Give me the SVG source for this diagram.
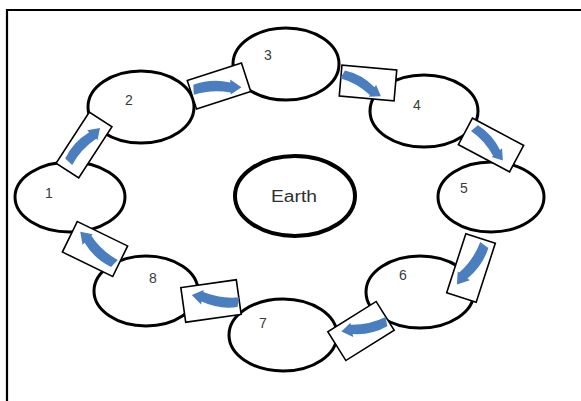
<svg xmlns="http://www.w3.org/2000/svg" xmlns:xlink="http://www.w3.org/1999/xlink" width="581" height="401" viewBox="0 0 581 401">
  <style>
    .orbit { fill: #ffffff; stroke: #000000; stroke-width: 3; }
    .earth { fill: #ffffff; stroke: #000000; stroke-width: 4; }
    .num { font-family: "Liberation Sans", Arial, sans-serif; font-size: 14px; fill: #3a3a3a; text-anchor: middle; dominant-baseline: central; }
    .lbl { font-family: "Liberation Sans", Arial, sans-serif; font-size: 16px; fill: #2e2e2e; text-anchor: middle; dominant-baseline: central; }
    .box { fill: #ffffff; stroke: #000000; stroke-width: 1.6; }
    .frame { stroke: #000000; stroke-width: 2.2; fill: none; }
  </style>
  <defs>
    <!-- curved block arrow pointing along +x, tail at x=-24, tip at x=24 -->
    <path id="arw" fill="#4a7ebf" d="M-24,-4 Q-6,-10 13,-5 L13,-8 L24,0 L13,7 L13,5 Q-6,1 -24,6 Z"/>
  </defs>

  <rect width="581" height="401" fill="#ffffff"/>
  <!-- frame (top and left edges) -->
  <path class="frame" d="M7,401 V10 H581"/>

  <g id="earth">
    <ellipse class="earth" cx="295" cy="196" rx="60" ry="40"/>
    <text class="lbl" x="294" y="196" textLength="46" lengthAdjust="spacingAndGlyphs">Earth</text>
  </g>

  <g id="node1">
    <ellipse class="orbit" cx="70" cy="197" rx="55" ry="35"/>
    <text class="num" x="49" y="193">1</text>
  </g>
  <g id="node2">
    <ellipse class="orbit" cx="141" cy="107" rx="53" ry="36"/>
    <text class="num" x="129" y="100">2</text>
  </g>
  <g id="node3">
    <ellipse class="orbit" cx="286" cy="64" rx="53" ry="36"/>
    <text class="num" x="268" y="55">3</text>
  </g>
  <g id="node4">
    <ellipse class="orbit" cx="424" cy="111" rx="54" ry="36"/>
    <text class="num" x="417" y="105">4</text>
  </g>
  <g id="node5">
    <ellipse class="orbit" cx="491" cy="197" rx="53" ry="35"/>
    <text class="num" x="464" y="188">5</text>
  </g>
  <g id="node6">
    <ellipse class="orbit" cx="420" cy="292" rx="54" ry="36"/>
    <text class="num" x="403" y="275">6</text>
  </g>
  <g id="node7">
    <ellipse class="orbit" cx="283" cy="335" rx="54" ry="36"/>
    <text class="num" x="263" y="323">7</text>
  </g>
  <g id="node8">
    <ellipse class="orbit" cx="146" cy="291" rx="52" ry="35"/>
    <text class="num" x="153" y="278">8</text>
  </g>

  <g id="connectors">
    <g transform="translate(84,145) rotate(-57)"><rect class="box" x="-30.5" y="-13.5" width="61" height="27"/></g>
    <use xlink:href="#arw" href="#arw" transform="translate(84,144.5) rotate(-46) scale(0.96)"/>

    <g transform="translate(219,86) rotate(-18)"><rect class="box" x="-28.5" y="-15" width="57" height="30"/></g>
    <use xlink:href="#arw" href="#arw" transform="translate(217.5,88) rotate(-2) scale(1)"/>

    <g transform="translate(368,83) rotate(5)"><rect class="box" x="-27.5" y="-15.5" width="55" height="31"/></g>
    <use xlink:href="#arw" href="#arw" transform="translate(362,85) rotate(31) scale(0.92)"/>

    <g transform="translate(491,145) rotate(28)"><rect class="box" x="-29" y="-15" width="58" height="30"/></g>
    <use xlink:href="#arw" href="#arw" transform="translate(489,144) rotate(50) scale(0.9)"/>

    <g transform="translate(471,268) rotate(18)"><rect class="box" x="-15.5" y="-31" width="31" height="62"/></g>
    <use xlink:href="#arw" href="#arw" transform="translate(471,265) rotate(126) scale(1)"/>

    <g transform="translate(361,331) rotate(-32)"><rect class="box" x="-28.5" y="-17" width="57" height="34"/></g>
    <use xlink:href="#arw" href="#arw" transform="translate(364,327) rotate(169) scale(0.96)"/>

    <g transform="translate(211,301) rotate(-8)"><rect class="box" x="-28" y="-17.5" width="56" height="35"/></g>
    <use xlink:href="#arw" href="#arw" transform="translate(215,299) rotate(190) scale(0.98)"/>

    <g transform="translate(95,249) rotate(26)"><rect class="box" x="-28" y="-17" width="56" height="34"/></g>
    <use xlink:href="#arw" href="#arw" transform="translate(97,248) rotate(224) scale(0.97)"/>
  </g>
</svg>
